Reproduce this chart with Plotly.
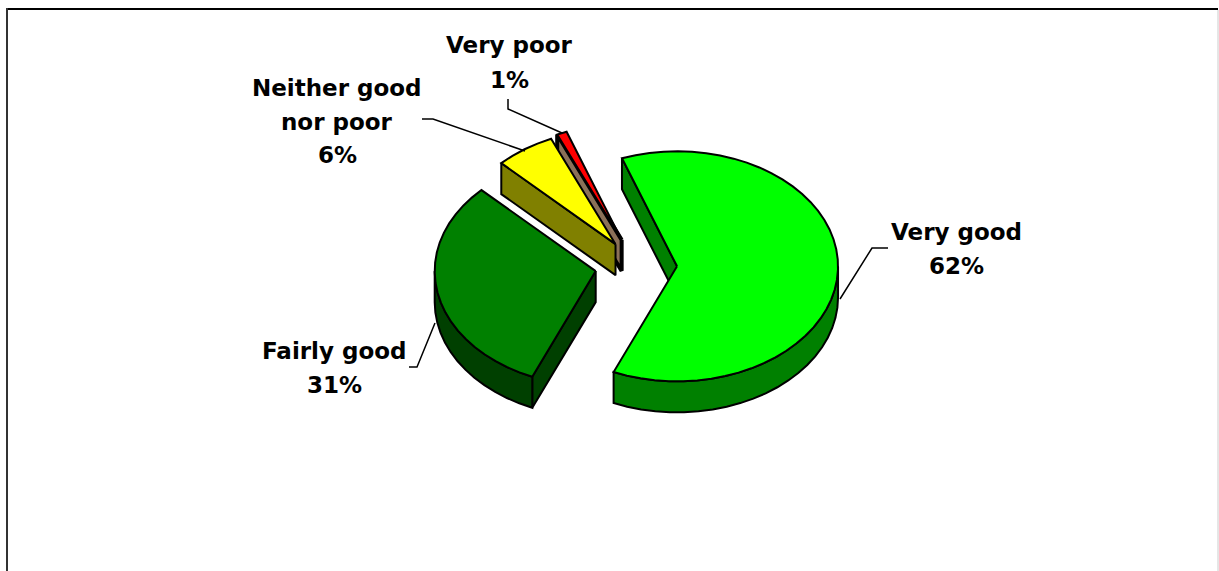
import numpy as np
import plotly.graph_objects as go

# 3d exploded pie, plotly has no such trace so faces are built from the shares
labels = ["Very good", "Fairly good", "Neither good nor poor", "Very poor"]
values = [62, 31, 6, 1]
top_colors = ["#00ff00", "#008000", "#ffff00", "#ff0000"]
side_colors = ["#008000", "#004000", "#808000", "#8b7158"]
explode = [0.255, 0.255, 0.225, 0.24]
wall_widths = [2, 2, 2, 4]

CX, CY = 636, 265.5
RX, RY = 161, 115
DEPTH = 31
START_ANGLE = 110
W, H = 1219, 571


def arc(a0, a1, ox, oy, drop=0):
    n = max(2, int(abs(a1 - a0) / 5) + 1)
    t = np.radians(np.linspace(a0, a1, n))
    return ox + RX * np.cos(t), oy - RY * np.sin(t) + drop


def add_face(fig, xs, ys, color, width=2):
    fig.add_trace(go.Scatter(x=list(xs), y=list(ys), mode="lines", fill="toself",
                             fillcolor=color, line=dict(color="black", width=width),
                             hoverinfo="skip", showlegend=False))


fig = go.Figure()

# angles go clockwise from START_ANGLE, slices drawn back to front
angles = [START_ANGLE]
for v in values:
    angles.append(angles[-1] - v / sum(values) * 360)

for i in [3, 2, 1, 0]:
    hi, lo = angles[i], angles[i + 1]
    mid = np.radians((hi + lo) / 2)
    ox = CX + explode[i] * RX * np.cos(mid)
    oy = CY - explode[i] * RY * np.sin(mid)

    # cut walls facing the viewer
    for a, visible in ((hi, np.cos(np.radians(hi)) < 0), (lo, np.cos(np.radians(lo)) > 0)):
        if visible:
            ex = ox + RX * np.cos(np.radians(a))
            ey = oy - RY * np.sin(np.radians(a))
            add_face(fig, [ox, ex, ex, ox, ox], [oy, ey, ey + DEPTH, oy + DEPTH, oy],
                     side_colors[i], wall_widths[i])

    # rim, only the part below the horizontal shows
    r0, r1 = min(hi, 0), max(lo, -180)
    if r0 > r1:
        x1, y1 = arc(r0, r1, ox, oy)
        x2, y2 = arc(r1, r0, ox, oy, DEPTH)
        add_face(fig, np.r_[x1, x2, x1[0]], np.r_[y1, y2, y1[0]], side_colors[i])

    xa, ya = arc(hi, lo, ox, oy)
    add_face(fig, np.r_[ox, xa, ox], np.r_[oy, ya, oy], top_colors[i])

# leader lines
leaders = [
    ([888, 872, 840], [248, 248, 299]),
    ([409, 417, 435], [367, 367, 323]),
    ([422, 433, 525], [119, 119, 151]),
    ([508, 508, 562], [99, 109, 133]),
]
for lx, ly in leaders:
    fig.add_trace(go.Scatter(x=lx, y=ly, mode="lines", line=dict(color="black", width=1.5),
                             hoverinfo="skip", showlegend=False))

# label text, one annotation per line because the line gap is wider than plotly's
label_lines = [
    (956, [232, 266], ["Very good", f"{values[0]}%"]),
    (334, [351, 385], ["Fairly good", f"{values[1]}%"]),
    (337, [88, 122, 155], ["Neither good", "nor poor", f"{values[2]}%"]),
    (509, [45, 80], ["Very poor", f"{values[3]}%"]),
]
for x, ys, lines in label_lines:
    for y, line in zip(ys, lines):
        fig.add_annotation(x=x, y=y, text=f"<b>{line}</b>", showarrow=False,
                           font=dict(family="DejaVu Sans", size=23, color="black"))

fig.update_layout(
    width=W, height=H, margin=dict(l=0, r=0, t=0, b=0),
    paper_bgcolor="white", plot_bgcolor="white", showlegend=False,
    xaxis=dict(range=[0, W], visible=False, fixedrange=True),
    yaxis=dict(range=[H, 0], visible=False, fixedrange=True),
    shapes=[
        dict(type="line", x0=6, x1=1218, y0=9, y1=9, line=dict(color="black", width=2)),
        dict(type="line", x0=7, x1=7, y0=8, y1=571, line=dict(color="#333333", width=2)),
        dict(type="line", x0=1218, x1=1218, y0=10, y1=571, line=dict(color="#cccccc", width=1)),
    ],
)

fig.write_html("out.html", config={"displayModeBar": False},
               post_script="document.body.style.margin='0';")
